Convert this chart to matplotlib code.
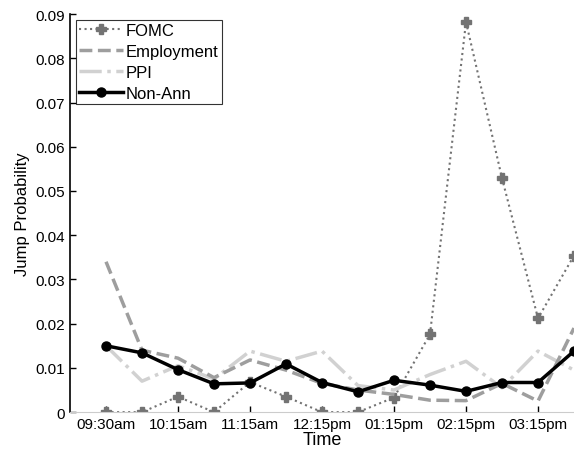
import matplotlib
matplotlib.use("Agg")
import matplotlib.pyplot as plt
import numpy as np

plt.rcParams['font.family'] = ['Liberation Sans', 'DejaVu Sans']

tick_labels = ["09:30am", "10:15am", "11:15am", "12:15pm", "01:15pm", "02:15pm", "03:15pm"]
fomc = [0.0, 0.0, 0.0035, 0.0, 0.0068, 0.0035, 0.0, 0.0, 0.0033, 0.0176, 0.0882, 0.0529, 0.0212, 0.0354]
employment = [0.034, 0.014, 0.0122, 0.0078, 0.0118, 0.0095, 0.0065, 0.0050, 0.0040, 0.0027, 0.0026, 0.0065, 0.0025, 0.0190]
ppi = [0.015, 0.0070, 0.0105, 0.0075, 0.0138, 0.0115, 0.0138, 0.0060, 0.0050, 0.0085, 0.0115, 0.0055, 0.0138, 0.0095]
non_ann = [0.0150, 0.0134, 0.0096, 0.0064, 0.0066, 0.0109, 0.0067, 0.0046, 0.0072, 0.0061, 0.0047, 0.0067, 0.0067, 0.0138]

x = np.arange(1, len(non_ann) + 1)

fig = plt.figure(figsize=(5.74, 4.56), dpi=100)
ax = fig.add_axes([0.122, 0.094, 0.878, 0.873])

ax.plot(x, fomc, linestyle=':', color='0.45', lw=1.5, marker='P', ms=7,
        mfc='0.45', mec='0.45', label='FOMC', zorder=2)
ax.plot(x, employment, linestyle='--', color='0.62', lw=2.5, label='Employment', zorder=3)
ax.plot(x, ppi, linestyle='-.', color='0.82', lw=2.5, label='PPI', zorder=2.5)
ax.plot(x, non_ann, linestyle='-', color='black', lw=2.5, marker='o', ms=6.5,
        mfc='black', mec='black', label='Non-Ann', zorder=4)

ax.set_xlim(0, 14)
ax.set_ylim(0, 0.09)
ax.set_xticks(x[::2])
ax.set_xticklabels(tick_labels)
ax.set_yticks(np.arange(0, 0.0901, 0.01))
ax.set_yticklabels(["0"] + ["%.2f" % v for v in np.arange(0.01, 0.0901, 0.01)])
ax.tick_params(direction='in', labelsize=11, length=4, width=1)
ax.spines['top'].set_visible(False)
ax.spines['right'].set_visible(False)
ax.spines['left'].set_linewidth(1.2)
ax.spines['bottom'].set_color('0.8')

ax.set_xlabel('Time', fontsize=13, labelpad=0)
ax.set_ylabel('Jump Probability', fontsize=12)

leg = ax.legend(loc='upper left', fontsize=12, frameon=True, fancybox=False,
                edgecolor='black', borderpad=0.2, handlelength=2.6,
                labelspacing=0.35, handletextpad=0.2, borderaxespad=0.35)
leg.get_frame().set_linewidth(0.8)

fig.savefig('out.png', dpi=100)
